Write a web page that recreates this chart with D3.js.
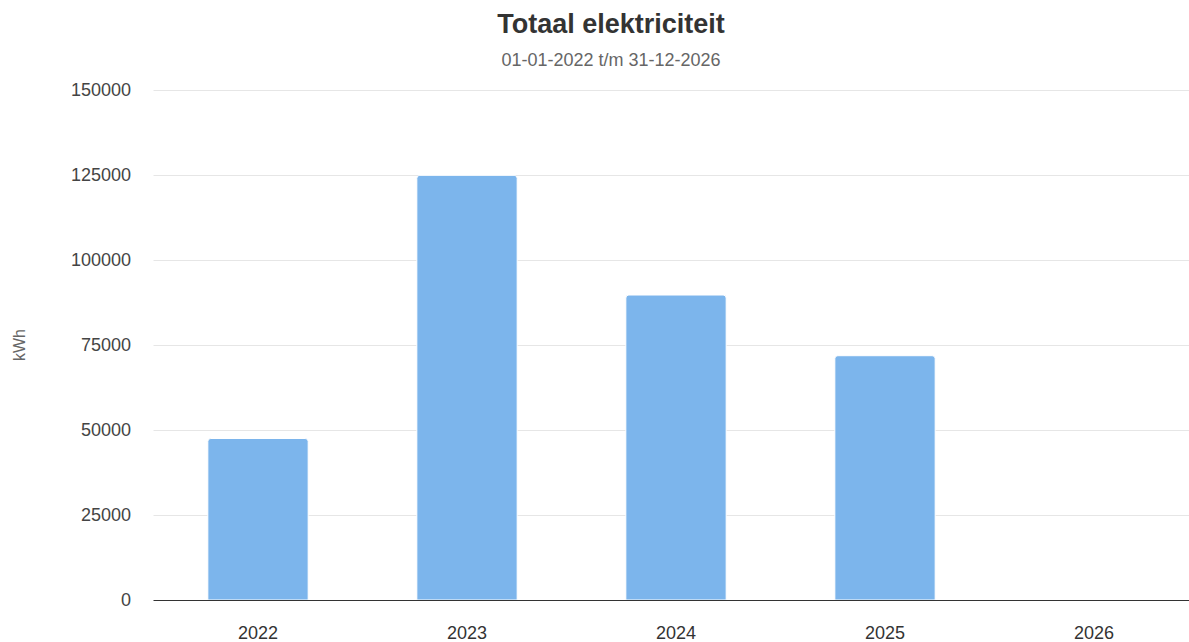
<!DOCTYPE html>
<html>
<head>
<meta charset="utf-8">
<script src="https://cdn.jsdelivr.net/npm/d3@7"></script>
<style>
  html, body { margin: 0; padding: 0; background: #fff; }
  svg { display: block; font-family: "Liberation Sans", Arial, sans-serif; }
</style>
</head>
<body>
<svg id="chart" width="1189" height="642"></svg>
<script>
const categories = ["2022", "2023", "2024", "2025", "2026"];
const values = [47500, 124900, 89700, 71850, 0];
const yTicks = [0, 25000, 50000, 75000, 100000, 125000, 150000];
const titleText = "Totaal elektriciteit";
const subtitleText = "01-01-2022 t/m 31-12-2026";
const yAxisTitle = "kWh";

const svg = d3.select("#chart");
const plotLeft = 153.5, plotRight = 1198.5, plotTop = 90, plotBottom = 600;

const x = d3.scaleBand().domain(categories).range([plotLeft, plotRight])
  .paddingInner(0.52).paddingOuter(0.26);
const y = d3.scaleLinear().domain([0, 150000]).range([plotBottom, plotTop]);

// title
svg.append("text").attr("x", 611).attr("y", 33).attr("text-anchor", "middle")
  .attr("font-size", 27).attr("font-weight", "bold").attr("fill", "#333").text(titleText);
svg.append("text").attr("x", 611).attr("y", 66).attr("text-anchor", "middle")
  .attr("font-size", 18).attr("fill", "#666").text(subtitleText);

// gridlines
svg.append("g").selectAll("line").data(yTicks.filter(d => d !== 0)).join("line")
  .attr("x1", plotLeft).attr("x2", 1189)
  .attr("y1", d => Math.round(y(d)) + 0.5).attr("y2", d => Math.round(y(d)) + 0.5)
  .attr("stroke", "#e6e6e6").attr("stroke-width", 1);

// y axis labels
const yAxis = d3.axisLeft(y).tickValues(yTicks).tickSize(0).tickPadding(0)
  .tickFormat(d => String(d));
const gy = svg.append("g").attr("transform", "translate(131,0)").call(yAxis);
gy.select(".domain").remove();
gy.selectAll("text").attr("font-size", 18).attr("fill", "#444")
  .attr("font-family", "'Liberation Sans', Arial, sans-serif");

// y axis title
svg.append("text").attr("transform", "translate(25,345) rotate(-90)")
  .attr("text-anchor", "middle").attr("font-size", 16).attr("fill", "#666").text(yAxisTitle);

// bars with rounded tops
const r = 3;
svg.append("g").selectAll("path").data(categories.map((c, i) => ({c, v: values[i]})).filter(d => d.v > 0))
  .join("path")
  .attr("d", d => {
    const x0 = x(d.c), x1 = x(d.c) + x.bandwidth();
    const yt = y(d.v), yb = y(0);
    return `M${x0},${yb} L${x0},${yt + r} Q${x0},${yt} ${x0 + r},${yt} L${x1 - r},${yt} Q${x1},${yt} ${x1},${yt + r} L${x1},${yb} Z`;
  })
  .attr("fill", "#7cb5ec").attr("stroke", "#ffffff").attr("stroke-width", 1);

// x axis
const xAxis = d3.axisBottom(x).tickSize(0).tickPadding(0);
const gx = svg.append("g").attr("transform", `translate(0,${plotBottom})`).call(xAxis);
gx.select(".domain").remove();
gx.selectAll("text").attr("font-size", 18).attr("fill", "#333").attr("dy", null).attr("y", 39)
  .attr("font-family", "'Liberation Sans', Arial, sans-serif");
svg.append("line").attr("x1", plotLeft).attr("x2", 1189)
  .attr("y1", plotBottom + 0.5).attr("y2", plotBottom + 0.5)
  .attr("stroke", "#333").attr("stroke-width", 1);
</script>
</body>
</html>
